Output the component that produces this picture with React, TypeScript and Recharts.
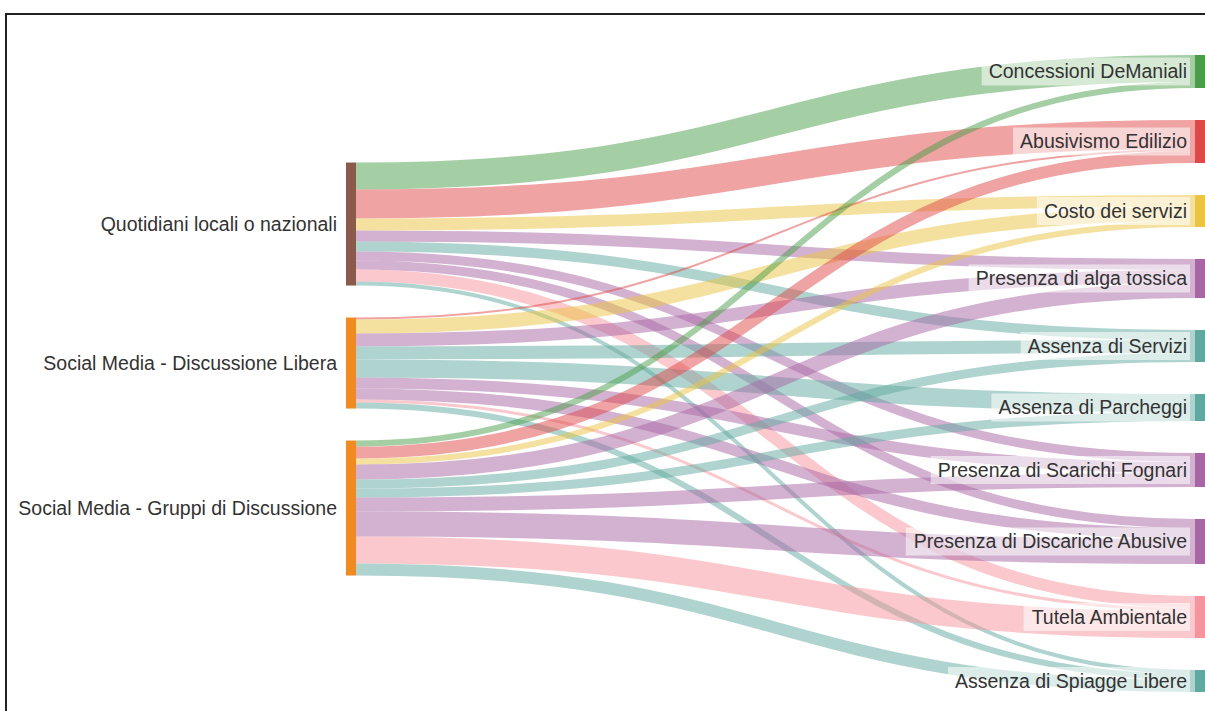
import React from 'react';
import { Sankey } from 'recharts';

const sources = [
  'Quotidiani locali o nazionali',
  'Social Media - Discussione Libera',
  'Social Media - Gruppi di Discussione',
];

const topics = [
  'Concessioni DeManiali',
  'Abusivismo Edilizio',
  'Costo dei servizi',
  'Presenza di alga tossica',
  'Assenza di Servizi',
  'Assenza di Parcheggi',
  'Presenza di Scarichi Fognari',
  'Presenza di Discariche Abusive',
  'Tutela Ambientale',
  'Assenza di Spiagge Libere',
];

// mentions per topic, same order as topics (0 = no link)
const quotidiani = [27, 29, 12, 11, 10, 0, 9, 9, 12, 4];
const discussioneLibera = [0, 2, 14, 13, 13, 18, 11, 11, 3, 6];
const gruppiDiscussione = [6, 12, 6, 15, 9, 9, 14, 25, 27, 12];

const sourceColors = ['#8b5a4a', '#f28a1e', '#f28a1e'];
const topicColors = [
  '#4a9d47',
  '#e04848',
  '#ecc43f',
  '#a866a4',
  '#5fa9a0',
  '#5fa9a0',
  '#a866a4',
  '#a866a4',
  '#f7939c',
  '#5fa9a0',
];

const nodes = [...sources, ...topics].map((name) => ({ name }));
const nodeColors = [...sourceColors, ...topicColors];

const links: { source: number; target: number; value: number }[] = [];
[quotidiani, discussioneLibera, gruppiDiscussione].forEach((row, s) => {
  row.forEach((value, t) => {
    if (value > 0) links.push({ source: s, target: sources.length + t, value });
  });
});

// recharts centres the source column lower than the original layout did
const SOURCE_SHIFT = -55;

const FONT = "19.5px 'Liberation Sans', Arial, sans-serif";

let ctx: CanvasRenderingContext2D | null = null;
const textWidth = (text: string) => {
  if (!ctx) ctx = document.createElement('canvas').getContext('2d');
  if (!ctx) return text.length * 9;
  ctx.font = FONT;
  return ctx.measureText(text).width;
};

const SankeyNode = (props: any) => {
  const { x, width, height, index, payload } = props;
  const isSource = payload.depth === 0;
  const y = props.y + (isSource ? SOURCE_SHIFT : 0);
  const color = nodeColors[index] ?? '#888';
  const cy = y + height / 2;
  const tx = isSource ? x - 9 : x - 8;
  const w = textWidth(payload.name);
  return (
    <g>
      {!isSource && (
        <rect x={tx - w - 7} y={cy - 14} width={w + 10} height={28} fill="#fff" fillOpacity={0.55} />
      )}
      <rect x={x} y={y} width={width} height={height} fill={color} />
      <text
        x={tx}
        y={cy}
        dy="0.35em"
        textAnchor="end"
        fontFamily="'Liberation Sans', Arial, sans-serif"
        fontSize={19.5}
        fill="#333"
      >
        {payload.name}
      </text>
    </g>
  );
};

const SankeyLink = (props: any) => {
  const { sourceX, targetX, targetY, sourceControlX, targetControlX, linkWidth, payload } = props;
  const sourceY = props.sourceY + SOURCE_SHIFT;
  const target = payload.target;
  const ti = typeof target === 'number' ? target : nodes.findIndex((n) => n.name === target?.name);
  const color = nodeColors[ti] ?? '#aaa';
  return (
    <path
      d={`M${sourceX},${sourceY} C${sourceControlX},${sourceY} ${targetControlX},${targetY} ${targetX},${targetY}`}
      fill="none"
      stroke={color}
      strokeWidth={linkWidth}
      strokeOpacity={0.5}
    />
  );
};

export default function App() {
  return (
    <div
      style={{
        position: 'fixed',
        left: 0,
        top: 0,
        width: 1205,
        height: 711,
        overflow: 'hidden',
        background: '#fff',
      }}
    >
      <style>{'html, body { margin: 0; overflow: hidden; }'}</style>
      <div
        style={{
          position: 'absolute',
          left: 5,
          top: 13,
          width: 1200,
          height: 698,
          borderTop: '2px solid #222',
          borderLeft: '2px solid #222',
          boxSizing: 'border-box',
        }}
      />
      <div style={{ position: 'absolute', left: 0, top: 0 }}>
        <Sankey
          width={1205}
          height={711}
          data={{ nodes, links }}
          nodeWidth={10}
          nodePadding={32}
          sort={false}
          margin={{ top: 55, right: 0, bottom: 19, left: 346 }}
          node={<SankeyNode />}
          link={<SankeyLink />}
        />
      </div>
    </div>
  );
}
